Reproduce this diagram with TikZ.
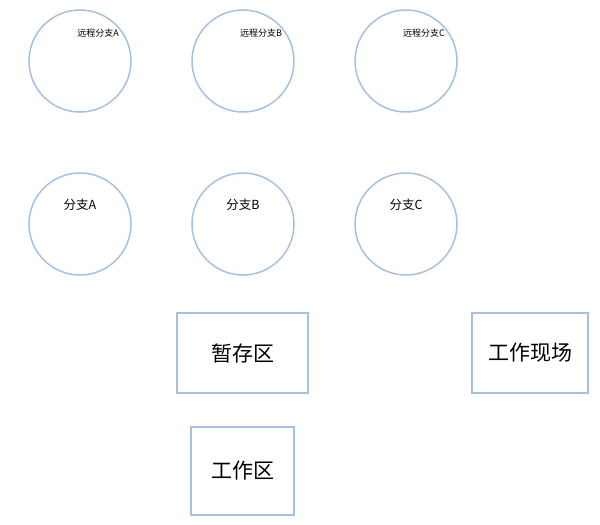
\documentclass[tikz,border=0pt]{standalone}
\usepackage{fontspec}
\newfontfamily\cjk{Noto Sans CJK SC}
\definecolor{lb}{RGB}{165,192,225}
\begin{document}
\begin{tikzpicture}[x=1pt,y=-1pt,
  circ/.style={draw=lb,line width=1.5pt,circle,minimum size=102pt,inner sep=0pt},
  box/.style={draw=lb,line width=1.5pt,rectangle,inner sep=0pt,font=\cjk\fontsize{21}{24}\selectfont},
  small/.style={font=\cjk\fontsize{9}{11}\selectfont},
  mid/.style={font=\cjk\fontsize{12.5}{15}\selectfont}]
\useasboundingbox (0,0) rectangle (600,525);
\foreach \n/\x in {A/80,B/243,C/406}{
  \node[circ] (r\n) at (\x,61) {};
  \node[small] (rt\n) at (\x+18,33) {远程分支\n};
  \node[circ] (b\n) at (\x,224) {};
  \node[mid] (bt\n) at (\x,205) {分支\n};
}
\node[box,minimum width=131pt,minimum height=80pt] (stage) at (242.5,353) {暂存区};
\node[box,minimum width=116pt,minimum height=80pt] (stash) at (530,353) {工作现场};
\node[box,minimum width=103pt,minimum height=88pt] (work) at (242.5,471) {工作区};
\end{tikzpicture}
\end{document}
